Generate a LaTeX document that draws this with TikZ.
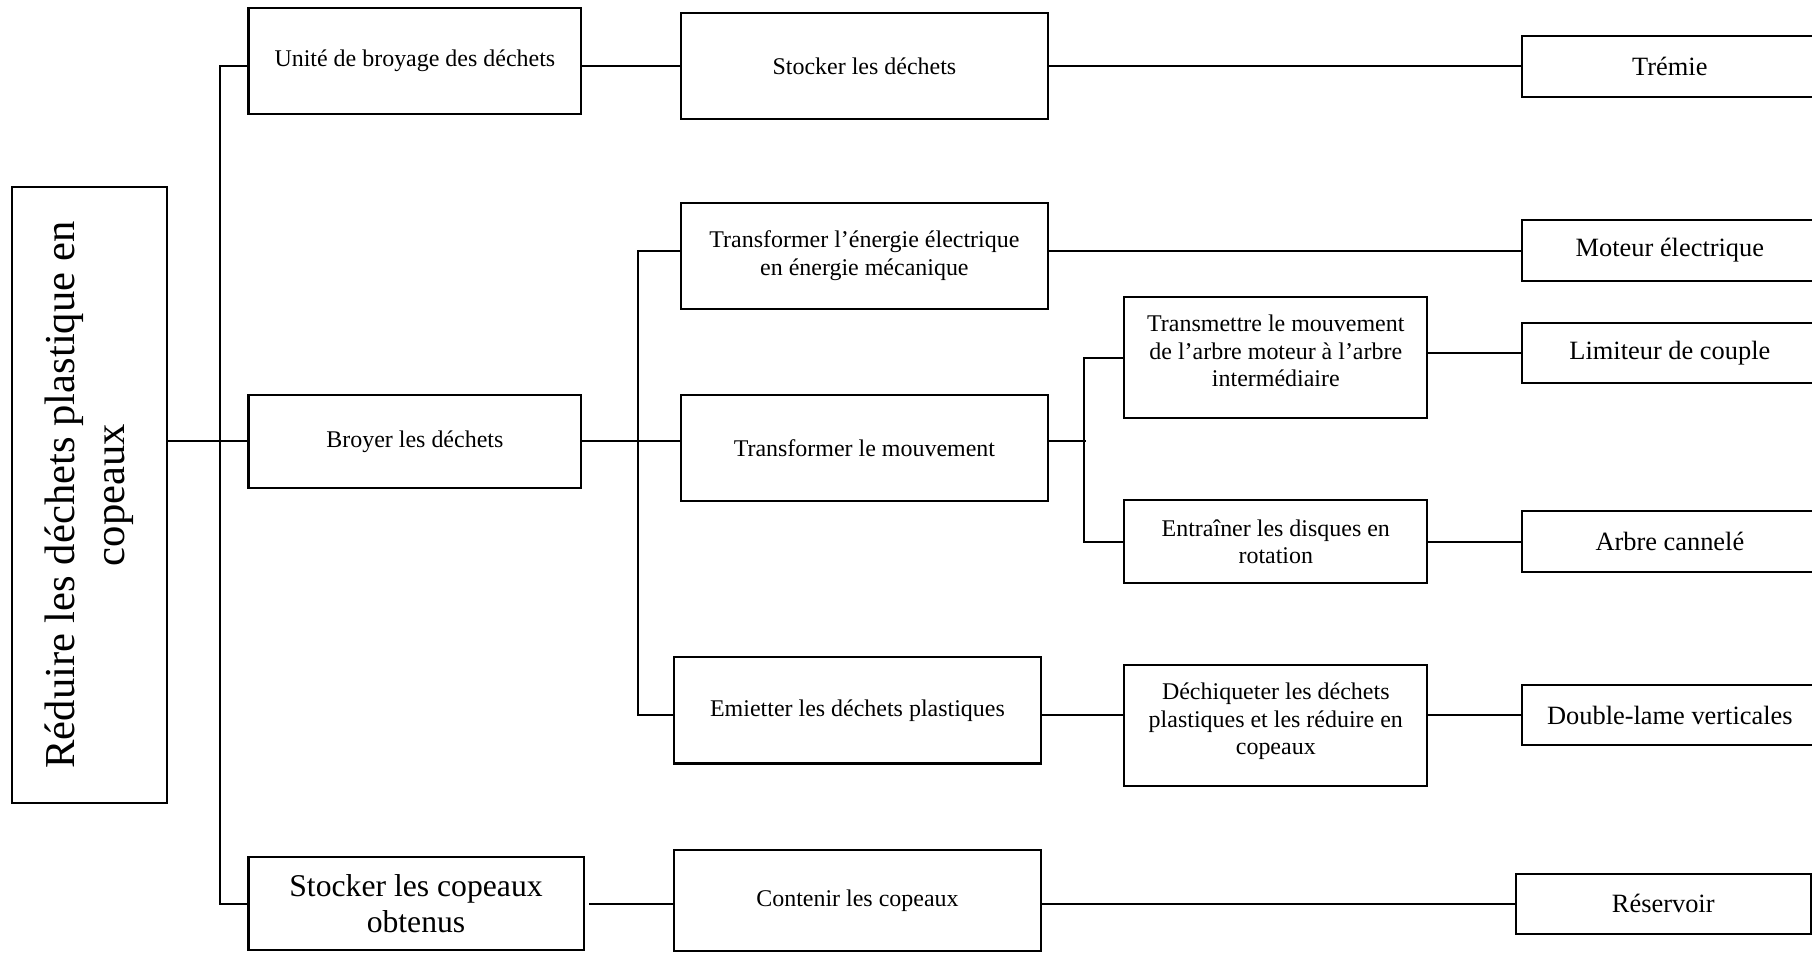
\documentclass[tikz,border=0pt]{standalone}
\usepackage{fontspec}
\setmainfont{Liberation Serif}
\usepackage{tikz}
\usetikzlibrary{calc}

\begin{document}
\begin{tikzpicture}[line width=1pt, x=0.02cm, y=-0.02cm,
  fctbox/.style={draw, align=center, inner sep=0pt, font=\fontsize{11.8}{13.6}\selectfont},
  midbox/.style={fctbox, minimum width=6.36cm, minimum height=1.84cm},
  subbox/.style={fctbox, minimum width=5.24cm},
  solbox/.style={fctbox, minimum width=5.12cm, minimum height=1.05cm, font=\fontsize{13}{15}\selectfont}]
\clip (0,0) rectangle (1568,824);
%%%%% Fonction globale %%%%%
\node[draw, rotate=90, minimum width=10.66cm, minimum height=2.69cm, align=center,
  inner sep=0pt, font=\fontsize{21}{25}\selectfont] (root) at (77.25,428.5)
  {Réduire les déchets plastique en\\copeaux};
%%%%% Niveau 1 %%%%%
\node[fctbox, minimum width=5.76cm, minimum height=1.84cm] (unite) at (359,52.5) {Unité de broyage des déchets};
\node[fctbox, minimum width=5.76cm, minimum height=1.6cm] (broyer) at (359,382) {Broyer les déchets};
\node[fctbox, minimum width=5.8cm, minimum height=1.6cm, font=\fontsize{15.6}{17.6}\selectfont] (copeaux) at (360,782) {Stocker les copeaux\\obtenus};
%%%%% Niveau 2 %%%%%
\node[midbox] (stockdech) at (748,57.4) {Stocker les déchets};
\node[midbox] (energie) at (748,221.3) {Transformer l’énergie électrique\\en énergie mécanique};
\node[midbox, minimum height=1.83cm] (mouvement) at (748,387.5) {Transformer le mouvement};
\node[midbox] (emietter) at (742,614.7) {Emietter les déchets plastiques};
\node[midbox, minimum height=1.75cm] (contenir) at (742,779.5) {Contenir les copeaux};
%%%%% Niveau 3 %%%%%
\node[subbox, minimum height=2.1cm] (transmettre) at (1104,309.4) {Transmettre le mouvement\\de l’arbre moteur à l’arbre\\intermédiaire\\[-7pt]};
\node[subbox, minimum height=1.44cm] (entrainer) at (1104,468.7) {Entraîner les disques en\\rotation};
\node[subbox, minimum height=2.09cm] (dechiq) at (1104,627.7) {Déchiqueter les déchets\\plastiques et les réduire en\\copeaux\\[-7pt]};
%%%%% Solutions %%%%%
\node[solbox] (tremie) at (1445,57.4) {Trémie};
\node[solbox] (moteur) at (1445,216.8) {Moteur électrique};
\node[solbox, minimum height=1.04cm] (limiteur) at (1445,305.5) {Limiteur de couple};
\node[solbox] (arbre) at (1445,468.7) {Arbre cannelé};
\node[solbox, minimum height=1.04cm] (doublelame) at (1445,618.8) {Double-lame verticales};
\node[solbox, minimum width=5.1cm, minimum height=1.04cm] (reservoir) at (1439.3,782) {Réservoir};
%%%%% Liaisons %%%%%
\draw (root.south |- broyer) -- (broyer.west);
\draw (unite.west |- stockdech) -- ++(-24,0) |- (copeaux.west);
\draw (unite.east |- stockdech) -- (stockdech.west);
\draw (broyer.east) -- (mouvement.west |- broyer);
\draw (energie.west |- moteur) -- ++(-36,0) |- (emietter.west |- doublelame);
\draw[shorten <=0.08cm] (copeaux.east) -- (contenir.west |- copeaux);
\draw (stockdech.east) -- (tremie.west);
\draw (energie.east |- moteur) -- (moteur.west);
\draw (mouvement.east |- broyer) -- ++(32,0);
\draw (transmettre.west) -- ++(-34,0) |- (entrainer.west);
\draw (emietter.east |- doublelame) -- (dechiq.west |- doublelame);
\draw (contenir.east |- copeaux) -- (reservoir.west);
\draw (transmettre.east |- limiteur) -- (limiteur.west);
\draw (entrainer.east) -- (arbre.west);
\draw (dechiq.east |- doublelame) -- (doublelame.west);
\end{tikzpicture}
\end{document}
